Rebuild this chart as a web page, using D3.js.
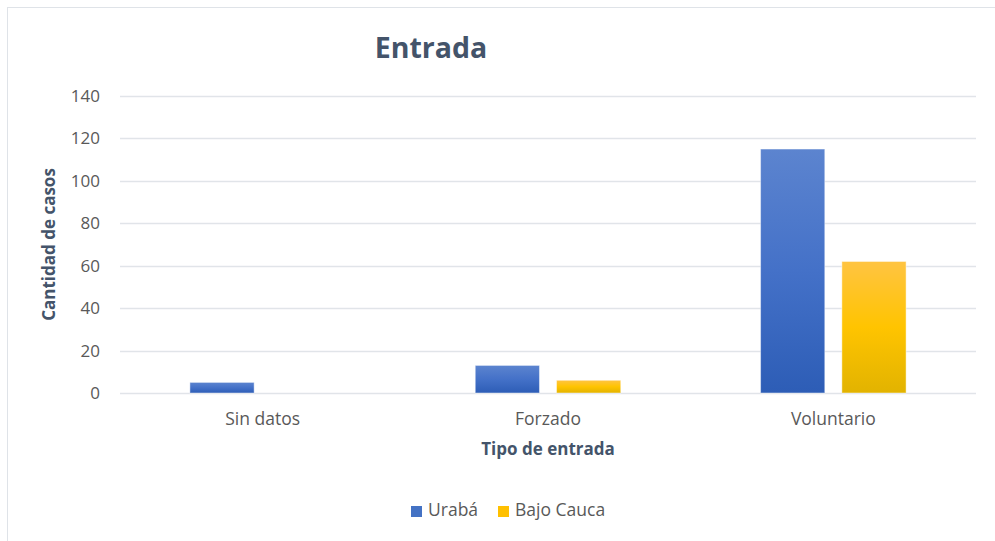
<!DOCTYPE html>
<html>
<head>
<meta charset="utf-8">
<script src="https://cdn.jsdelivr.net/npm/d3@7"></script>
<style>
  body { margin: 0; background: #fff; }
  svg { display: block; font-family: "Open Sans", sans-serif; }
</style>
</head>
<body>
<svg id="chart"></svg>
<script>
// data
var categories = ["Sin datos", "Forzado", "Voluntario"];
var seriesNames = ["Urabá", "Bajo Cauca"];
var uraba = [5, 13, 115];
var bajoCauca = [0, 6, 62];
var yTicks = [0, 20, 40, 60, 80, 100, 120, 140];

var width = 995, height = 541;
var plot = {left: 120, right: 976, top: 96, bottom: 393};

var svg = d3.select("#chart")
    .attr("width", width)
    .attr("height", height);

// frame
svg.append("rect")
    .attr("x", 7.5).attr("y", 7.5)
    .attr("width", width).attr("height", height)
    .attr("fill", "#fff")
    .attr("stroke", "#dfe3e8");

// gradients like the excel fill
var defs = svg.append("defs");
var g1 = defs.append("linearGradient").attr("id", "gUraba")
    .attr("x1", 0).attr("y1", 0).attr("x2", 0).attr("y2", 1);
g1.append("stop").attr("offset", "0%").attr("stop-color", "#5c84cf");
g1.append("stop").attr("offset", "50%").attr("stop-color", "#4471c8");
g1.append("stop").attr("offset", "100%").attr("stop-color", "#2d5db6");
var g2 = defs.append("linearGradient").attr("id", "gBajo")
    .attr("x1", 0).attr("y1", 0).attr("x2", 0).attr("y2", 1);
g2.append("stop").attr("offset", "0%").attr("stop-color", "#ffc442");
g2.append("stop").attr("offset", "50%").attr("stop-color", "#ffc400");
g2.append("stop").attr("offset", "100%").attr("stop-color", "#e2b300");

var fills = ["url(#gUraba)", "url(#gBajo)"];
var legendColors = ["#4472c4", "#ffc000"];

//--------------------scales---------------
var x0 = d3.scaleBand()
    .domain(categories)
    .range([plot.left, plot.right])
    .paddingInner(0.49)
    .paddingOuter(0.245);

var x1 = d3.scaleBand()
    .domain(seriesNames)
    .range([0, x0.bandwidth()])
    .paddingInner(0.21);

var y = d3.scaleLinear()
    .domain([0, 140])
    .range([plot.bottom, plot.top]);

//--------------------gridlines + y axis---------------
svg.append("g")
    .selectAll("line")
    .data(yTicks)
    .enter().append("line")
    .attr("x1", plot.left).attr("x2", plot.right)
    .attr("y1", d => Math.round(y(d)) + 0.5)
    .attr("y2", d => Math.round(y(d)) + 0.5)
    .attr("stroke", "#e1e4e9")
    .attr("stroke-width", 1.5);

svg.append("g")
    .selectAll("text")
    .data(yTicks)
    .enter().append("text")
    .attr("x", 100)
    .attr("y", d => y(d))
    .attr("dy", "0.35em")
    .attr("text-anchor", "end")
    .attr("fill", "#595959")
    .style("font-size", "17px")
    .text(d => d);

//--------------------bars---------------
var rows = categories.map(function(c, i) {
  return {cat: c, values: [uraba[i], bajoCauca[i]]};
});

var groups = svg.append("g")
    .selectAll("g")
    .data(rows)
    .enter().append("g")
    .attr("transform", d => "translate(" + x0(d.cat) + ",0)");

groups.selectAll("rect")
    .data(d => d.values.map((v, j) => ({name: seriesNames[j], value: v, j: j})))
    .enter().append("rect")
    .filter(d => d.value > 0)
    .attr("x", d => x1(d.name))
    .attr("y", d => y(d.value))
    .attr("width", x1.bandwidth())
    .attr("height", d => y(0) - y(d.value))
    .attr("fill", d => fills[d.j])
    .attr("stroke", "rgba(255,255,255,0.45)")
    .attr("stroke-width", 1);

//--------------------x labels---------------
svg.append("g")
    .selectAll("text")
    .data(categories)
    .enter().append("text")
    .attr("x", d => x0(d) + x0.bandwidth() / 2)
    .attr("y", 425)
    .attr("text-anchor", "middle")
    .attr("fill", "#595959")
    .style("font-size", "17.5px")
    .text(d => d);

// titles
svg.append("text")
    .attr("x", 431)
    .attr("y", 58)
    .attr("text-anchor", "middle")
    .attr("fill", "#44546a")
    .style("font-size", "28.5px")
    .style("font-weight", "bold")
    .text("Entrada");

svg.append("text")
    .attr("x", (plot.left + plot.right) / 2)
    .attr("y", 455)
    .attr("text-anchor", "middle")
    .attr("fill", "#44546a")
    .style("font-size", "17px")
    .style("font-weight", "bold")
    .text("Tipo de entrada");

svg.append("text")
    .attr("transform", "translate(55," + ((plot.top + plot.bottom) / 2) + ") rotate(-90)")
    .attr("text-anchor", "middle")
    .attr("fill", "#44546a")
    .style("font-size", "17px")
    .style("font-weight", "bold")
    .text("Cantidad de casos");

//--------------------legend---------------
var legendPos = [411, 498];
var legend = svg.append("g")
    .selectAll("g")
    .data(seriesNames)
    .enter().append("g")
    .attr("transform", (d, i) => "translate(" + legendPos[i] + ",506)");

legend.append("rect")
    .attr("width", 11).attr("height", 11)
    .attr("fill", (d, i) => legendColors[i]);

legend.append("text")
    .attr("x", 17)
    .attr("y", 10)
    .attr("fill", "#595959")
    .style("font-size", "17.5px")
    .text(d => d);
</script>
</body>
</html>
